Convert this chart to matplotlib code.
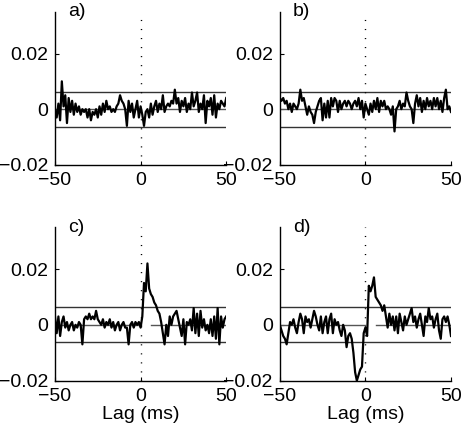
import numpy as np
import matplotlib
matplotlib.use('Agg')
import matplotlib.pyplot as plt

plt.rcParams['font.family'] = ['Liberation Sans', 'DejaVu Sans']
plt.rcParams['font.size'] = 14

# lag axis [ms]
lags = np.arange(-50, 51)

# cross-correlation traces (x 1e-3)
corr_a = [0, -3, 2, -4, 10, 1, 5, -5, 4, -1, 3, -2, 2, -1, 1, -2, 0, -1, 0, -3,
          0, -4, -1, -2, 0, -3, 1, -2, 2, -1, 3, 0, 1, -1, 0, -1, 1, 2, 5, 3,
          2, 0, -6, 3, -1, 2, -3, 0, 3, -3, 1, -2, -6, -1, 0, -3, 2, -2, 1, 3,
          -1, 2, 0, 5, -1, 1, 2, 1, 3, 2, 7, 2, 4, -1, 3, 1, 4, -1, 2, 0,
          6, 1, 3, 6, -1, 2, 0, 5, -5, 3, 1, 4, -2, 5, -3, 2, 0, 3, 2, 1, 4]
corr_b = [4, 3, 4, 2, 3, 0, 2, -1, 2, 1, 0, 2, 7, 3, 4, 1, -2, 1, -1, -2,
          -5, -1, 1, 3, 4, -4, 2, -3, 3, -3, 4, 1, 4, 3, -1, 3, 0, 2, 3, 1,
          3, 2, 0, 2, 3, 1, 4, 0, 3, -3, 2, 0, -2, 2, -1, 3, 0, 4, -1, 3,
          1, 3, 0, 1, 0, -2, 1, -8, 0, 1, 3, 0, 2, 1, 6, 3, 1, 0, -5, 2,
          5, 1, 4, -1, 3, 0, 4, 1, 3, 0, 4, 1, 4, 0, 3, -1, 4, 7, 0, 1, -1]
corr_c = [3, -3, 3, -4, 1, 3, -1, 1, -2, 0, 1, -2, 0, -1, 1, 0, -7, 2, 3, 2,
          4, 2, 3, 2, 5, 2, 1, 0, 2, -1, 1, 0, 2, -1, 1, -2, 0, 1, -2, 0,
          1, -1, -1, -7, 0, 1, -1, 1, 0, 1, -1, 3, 15, 12, 22, 13, 11, 10, 8, 7,
          5, 4, 1, -3, -7, 0, -4, 3, 0, 3, 4, 5, 2, -1, -4, 2, -7, 1, 0, 2,
          -2, 6, -3, 4, -4, 5, -1, 2, -2, 0, -3, 2, -4, 3, -5, 6, -7, 3, -1, 2, 3]
corr_d = [0, -2, -4, -5, -7, -3, 1, 0, 2, -1, -3, 1, 4, 2, -3, 3, 1, 2, -1, 2,
          5, 3, 0, -2, 3, -3, 1, 3, -3, 2, 4, -3, 2, 0, 1, -2, -4, 0, -2, -8,
          -4, -3, -5, -10, -17, -20, -18, -16, -15, -3, -1, -4, 14, 12, 14, 17, 10, 9, 8, 7,
          5, 7, 3, -1, 4, 0, 3, -2, 3, -3, 4, 1, -2, 3, 0, 2, 4, 6, 1, 3,
          -1, 2, 4, 0, -4, 3, 1, 6, 2, 3, -1, 2, 4, -2, -5, 2, 3, 1, 3, 0, -4]

panel_labels = ['a)', 'b)', 'c)', 'd)']
threshold = 0.0063
zero_segments = [(-50, 0), (6, 50)]

fig = plt.figure(figsize=(4.64, 4.36), dpi=100)
positions = [[0.1185, 0.622, 0.369, 0.351],
             [0.603, 0.622, 0.369, 0.351],
             [0.1185, 0.127, 0.369, 0.352],
             [0.603, 0.127, 0.369, 0.352]]

for k, trace in enumerate([corr_a, corr_b, corr_c, corr_d]):
    ax = fig.add_axes(positions[k])
    y = np.array(trace) * 1e-3
    for x0, x1 in zero_segments:
        ax.plot([x0, x1], [0, 0], color='#555555', lw=1.0)
    ax.axhline(threshold, color='#333333', lw=1.0)
    ax.axhline(-threshold, color='#333333', lw=1.0)
    ax.axvline(0, color='k', lw=1.0, linestyle=(0, (0.8, 5.7)))
    ax.plot(lags, y, color='k', lw=1.6)
    ax.set_xlim(-50, 50)
    ax.set_ylim(-0.02, 0.035)
    ax.set_xticks([-50, 0, 50])
    ax.set_xticklabels(['\u221250', '0', '50'])
    ax.set_yticks([-0.02, 0, 0.02])
    ax.set_yticklabels(['\u22120.02', '0', '0.02'])
    ax.tick_params(direction='in', length=3, width=0.8, pad=5)
    for s in ['top', 'right']:
        ax.spines[s].set_visible(False)
    for s in ['left', 'bottom']:
        ax.spines[s].set_linewidth(1.0)
    ax.text(-42.5, 0.035, panel_labels[k], ha='left', va='center')
    if k >= 2:
        ax.set_xlabel('Lag (ms)', labelpad=1)

fig.savefig('out.png', dpi=100)
